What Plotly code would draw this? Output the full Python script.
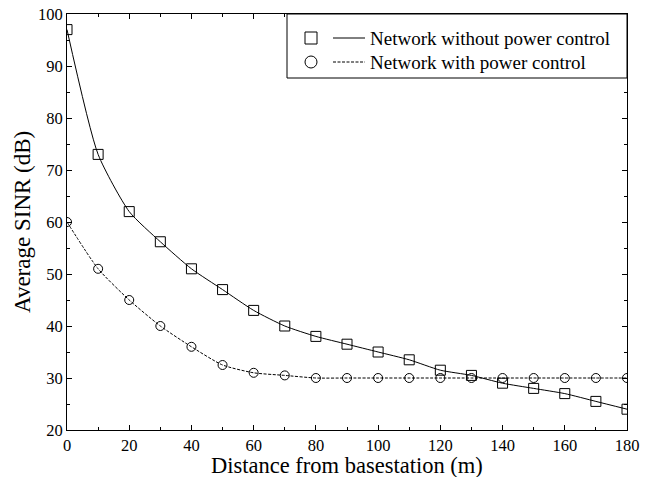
import plotly.graph_objects as go

distance = [0, 10, 20, 30, 40, 50, 60, 70, 80, 90, 100, 110, 120, 130, 140, 150, 160, 170, 180]
sinr_without_pc = [97, 73, 62, 56.2, 51, 47, 43, 40, 38, 36.5, 35, 33.5, 31.5, 30.5, 29, 28, 27, 25.5, 24]
sinr_with_pc = [60, 51, 45, 40, 36, 32.5, 31, 30.5, 30, 30, 30, 30, 30, 30, 30, 30, 30, 30, 30]
legend_labels = ["Network without power control", "Network with power control"]
x_title = "Distance from basestation (m)"
y_title = "Average SINR (dB)"

W, H = 650, 477
L, R, T, B = 67, 23, 14, 47
PW, PH = W - L - R, H - T - B

def px(x):
    return (x - L) / PW

def py(y):
    return 1 - (y - T) / PH

FONT = "Liberation Serif, Times New Roman, serif"

fig = go.Figure()
fig.add_trace(go.Scatter(
    x=distance, y=sinr_without_pc, mode="lines+markers",
    line=dict(color="black", width=1, shape="spline", smoothing=0.6),
    marker=dict(symbol="square-open", size=10, color="black", line=dict(width=1)),
    name=legend_labels[0], showlegend=False))
fig.add_trace(go.Scatter(
    x=distance, y=sinr_with_pc, mode="lines+markers",
    line=dict(color="black", width=1, shape="spline", smoothing=0.6, dash="3px,1.5px"),
    marker=dict(symbol="circle-open", size=9, color="black", line=dict(width=1)),
    name=legend_labels[1], showlegend=False))

axis_common = dict(
    showline=True, linecolor="black", linewidth=1, mirror="ticks",
    ticks="inside", ticklen=5, tickcolor="black", tickwidth=1,
    showgrid=False, zeroline=False, automargin=False,
    tickfont=dict(family=FONT, size=16.5, color="black"),
)
fig.update_xaxes(range=[0, 180], dtick=20, tick0=0,
                 minor=dict(dtick=10, ticks="inside", ticklen=3, tickcolor="black"),
                 **axis_common)
fig.update_yaxes(range=[20, 100], dtick=10, tick0=20,
                 minor=dict(dtick=5, ticks="inside", ticklen=3, tickcolor="black"),
                 **axis_common)

# Legend box drawn manually
shapes = [
    dict(type="rect", xref="paper", yref="paper", x0=px(287), x1=1, y0=py(78), y1=1,
         line=dict(color="black", width=1), fillcolor="white", layer="above"),
    dict(type="rect", xref="paper", yref="paper", x0=px(305), x1=px(317), y0=py(44), y1=py(32),
         line=dict(color="black", width=1), layer="above"),
    dict(type="circle", xref="paper", yref="paper", x0=px(305), x1=px(317), y0=py(68), y1=py(56),
         line=dict(color="black", width=1), layer="above"),
    dict(type="line", xref="paper", yref="paper", x0=px(333), x1=px(365), y0=py(38), y1=py(38),
         line=dict(color="black", width=1), layer="above"),
    dict(type="line", xref="paper", yref="paper", x0=px(333), x1=px(365), y0=py(62), y1=py(62),
         line=dict(color="black", width=1, dash="3px,1.5px"), layer="above"),
]
annotations = [
    dict(xref="paper", yref="paper", x=px(368), y=py(38), text=legend_labels[0], showarrow=False,
         xanchor="left", yanchor="middle", font=dict(family=FONT, size=19, color="black")),
    dict(xref="paper", yref="paper", x=px(368), y=py(62), text=legend_labels[1], showarrow=False,
         xanchor="left", yanchor="middle", font=dict(family=FONT, size=19, color="black")),
    dict(xref="paper", yref="paper", x=0.5, y=py(466), text=x_title, showarrow=False,
         xanchor="center", yanchor="middle", font=dict(family=FONT, size=22.5, color="black")),
    dict(xref="paper", yref="paper", x=px(22), y=0.5, text=y_title, showarrow=False, textangle=-90,
         xanchor="center", yanchor="middle", font=dict(family=FONT, size=23, color="black")),
]

fig.update_layout(
    width=W, height=H,
    margin=dict(l=L, r=R, t=T, b=B),
    paper_bgcolor="white", plot_bgcolor="white",
    shapes=shapes, annotations=annotations,
    showlegend=False,
)
fig.write_html("out.html", config={"displayModeBar": False},
               post_script="document.body.style.margin='0';document.body.style.overflow='hidden';")
